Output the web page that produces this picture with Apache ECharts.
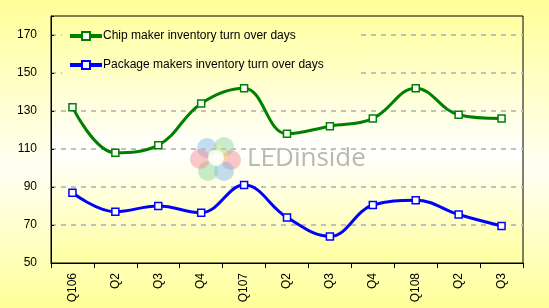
<!DOCTYPE html>
<html>
<head>
<meta charset="utf-8">
<script src="https://cdn.jsdelivr.net/npm/echarts@6/dist/echarts.min.js"></script>
<style>
  html, body { margin: 0; padding: 0; }
  #chart { width: 549px; height: 308px; }
</style>
</head>
<body>
<div id="chart"></div>
<script>
// данные графика
const quarters = ['Q106', 'Q2', 'Q3', 'Q4', 'Q107', 'Q2', 'Q3', 'Q4', 'Q108', 'Q2', 'Q3'];
const chipDays = [132, 108, 112, 134, 142, 118, 122, 126, 142, 128, 126];
const packageDays = [87, 77, 80, 76.5, 91, 74, 64, 80.5, 83, 75.5, 69.5];
const chipName = 'Chip maker inventory turn over days';
const packageName = 'Package makers inventory turn over days';

const chart = echarts.init(document.getElementById('chart'));

const yellowWhite = (a, b) => new echarts.graphic.LinearGradient(0, 0, 0, 1, [
  { offset: 0, color: a },
  { offset: 0.55, color: b },
  { offset: 1, color: a }
]);

// логотип-водяной знак
const petals = [
  { dx: -9, dy: -10, c: 'rgba(120,180,230,0.45)' },
  { dx: 8, dy: -11, c: 'rgba(130,210,150,0.45)' },
  { dx: 15, dy: 2, c: 'rgba(245,130,140,0.45)' },
  { dx: 8, dy: 13, c: 'rgba(120,180,230,0.45)' },
  { dx: -8, dy: 13, c: 'rgba(130,210,150,0.45)' },
  { dx: -16, dy: 1, c: 'rgba(245,130,140,0.45)' },
  { dx: 2, dy: -3, c: 'rgba(250,240,120,0.35)' }
];
const logo = petals.map(p => ({
  type: 'circle',
  shape: { cx: 216 + p.dx, cy: 158 + p.dy, r: 10 },
  style: { fill: p.c },
  z: 0
}));
logo.push({
  type: 'circle',
  shape: { cx: 216, cy: 158, r: 8 },
  style: { fill: 'rgba(255,255,255,0.8)' },
  z: 0
});
logo.push({
  type: 'text',
  left: 247,
  top: 146,
  style: { text: 'LEDinside', fill: 'rgba(160,160,160,0.75)', font: '26px "Open Sans", sans-serif' },
  z: 0
});

const lineSeries = (name, data, color) => ({
  name,
  type: 'line',
  data,
  smooth: 0.4,
  symbol: 'rect',
  symbolSize: 7,
  z: 3,
  lineStyle: { color, width: 3 },
  itemStyle: { color: '#fff', borderColor: color, borderWidth: 1.5 }
});

chart.setOption({
  backgroundColor: yellowWhite('#FFFF99', '#FFFFF4'),
  animation: false,
  textStyle: { fontFamily: '"Liberation Sans", Arial, sans-serif' },
  graphic: logo,
  grid: {
    left: 51,
    right: 26,
    top: 16,
    bottom: 45,
    show: true,
    borderColor: '#000',
    borderWidth: 1,
    backgroundColor: yellowWhite('#FFFFA0', '#FFFFFF')
  },
  legend: {
    orient: 'vertical',
    left: 62,
    top: 24,
    itemWidth: 30,
    itemHeight: 10,
    itemGap: 17,
    padding: [6, 34, 6, 8],
    backgroundColor: new echarts.graphic.LinearGradient(0, 0, 0, 1, [
      { offset: 0, color: '#FFFFA8' },
      { offset: 1, color: '#FFFFC8' }
    ]),
    textStyle: { fontSize: 12, color: '#000', padding: [0, 0, 0, -3] },
    data: [
      { name: chipName, icon: 'path://M0,4h11v-3h8v3h11v2h-11v3h-8v-3h-11z' },
      { name: packageName, icon: 'path://M0,4h11v-3h8v3h11v2h-11v3h-8v-3h-11z' }
    ],
    z: 2
  },
  xAxis: {
    type: 'category',
    data: quarters,
    boundaryGap: true,
    axisLine: { lineStyle: { color: '#000', width: 1 } },
    axisTick: { show: true, length: 5, lineStyle: { color: '#000' } },
    axisLabel: { rotate: 90, color: '#000', fontSize: 12, margin: 10 }
  },
  yAxis: {
    type: 'value',
    min: 50,
    max: 180,
    interval: 20,
    axisLine: { show: true, lineStyle: { color: '#000' } },
    axisTick: { show: true, inside: true, length: 3, lineStyle: { color: '#000' } },
    axisLabel: {
      color: '#000',
      fontSize: 12,
      margin: 14,
      formatter: v => (v > 170 ? '' : v)
    },
    splitLine: {
      show: true,
      showMinLine: false,
      showMaxLine: false,
      lineStyle: { color: '#C0C0C0', type: [5, 5], width: 2 }
    }
  },
  series: [
    lineSeries(chipName, chipDays, '#008000'),
    lineSeries(packageName, packageDays, '#0000FF')
  ]
});
</script>
</body>
</html>
